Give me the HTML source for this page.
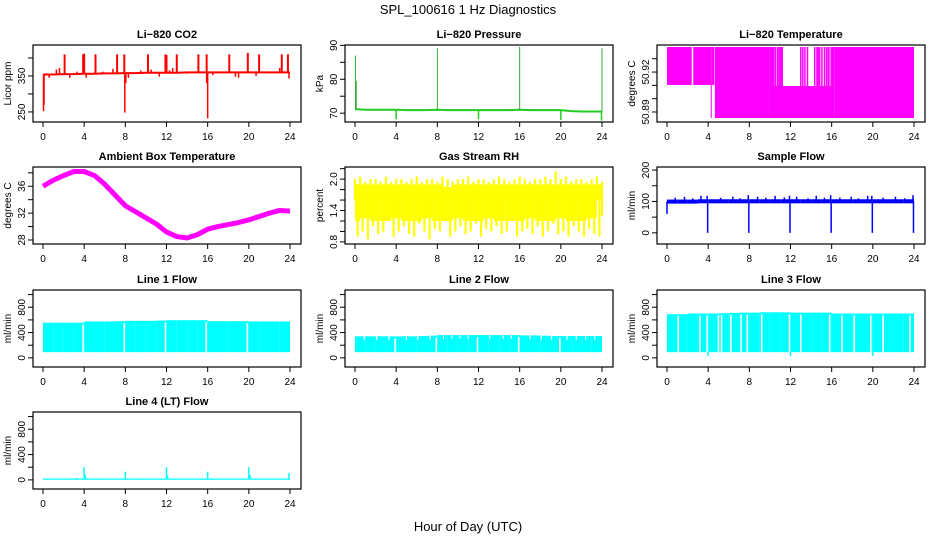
<!DOCTYPE html>
<html><head><meta charset="utf-8">
<style>
html,body{margin:0;padding:0;background:#fff;}
svg{display:block;font-family:"Liberation Sans",Arial,sans-serif;}
</style></head>
<body>
<svg id="chart" width="936" height="540" viewBox="0 0 936 540">
<text x="468" y="14" text-anchor="middle" font-size="13">SPL_100616  1 Hz Diagnostics</text>
<text x="468" y="531" text-anchor="middle" font-size="13">Hour of Day (UTC)</text>
</svg>
<script>
// ---------- data ----------
const xTicks=[0,4,8,12,16,20,24];
const hours=[0,1,2,3,4,5,6,7,8,9,10,11,12,13,14,15,16,17,18,19,20,21,22,23,24];

const co2Base=[354,354,355,355,356,356,357,357,358,358,359,359,359,359,360,360,360,360,360,360,360,360,360,360,360];
const co2SpikeHours=[2.1,3.9,4.0,5.1,7.2,7.9,10.2,11.9,12.0,13.0,15.1,15.9,18.1,19.9,21.0,23.2,23.8];
const co2SpikeVals=[410,410,412,410,410,410,410,410,408,410,410,410,410,414,410,410,410];
const co2DipHours=[0.05,0.1,7.95,8.05,15.9,16.0];
const co2DipVals=[252,270,248,330,330,232];
const co2SmallHours=[0.6,1.3,1.6,2.6,3.3,4.2,5.8,6.8,8.3,9.5,10.5,11.3,12.3,12.6,14.0,16.5,17.5,18.7,19.0,20.7,22.3,23.0,23.9];
const co2SmallVals=[345,368,372,345,362,345,362,370,345,365,368,348,366,372,356,352,362,348,345,350,362,372,343];

const presBase=[71.2,71.0,71.0,71.0,71.0,70.9,70.9,70.9,71.0,70.9,70.9,70.9,70.9,70.9,70.9,70.9,71.0,70.9,70.9,70.9,70.9,70.6,70.5,70.5,70.5];
const presSpikeHours=[0.05,0.12,8.0,16.0,24.0];
const presSpikeVals=[87,79.5,89.2,89.6,89.1];
const presDipHours=[4.0,12.0,20.0,23.95];
const presDipVals=[68.2,68.2,68.0,67.8];

const ltStart=[0,2.55,4.25,4.35,4.65,10.0,10.0,14.5,15.6,16.0,16.3];
const ltEnd=[2.4,4.3,4.35,4.6,10.0,16.3,10.45,14.9,15.8,16.3,24.0];
const ltLow=[50.9103,50.9103,50.8855,50.9103,50.8855,50.8855,50.9095,50.9095,50.9095,50.9095,50.8855];
const ltHigh=[50.9388,50.9388,50.9388,50.9388,50.9388,50.9095,50.9388,50.9388,50.9388,50.9388,50.9388];
const ltLineHours=[10.55,10.75,10.9,11.05,11.2,13.0,13.2,13.4,13.65,14.35,15.05,15.3,15.5,15.95];

const ambVals=[36.0,36.9,37.6,38.2,38.2,37.6,36.3,34.7,33.1,32.2,31.3,30.4,29.2,28.5,28.3,28.8,29.6,30.0,30.3,30.6,31.0,31.5,32.0,32.4,32.3];

const rhHigh=[2.0,2.05,1.95,2.0,2.0,1.95,2.05,1.95,2.0,2.0,1.95,2.0,2.05,1.95,2.0,2.0,1.95,2.05,2.0,1.95,2.0,2.0,2.05,1.95,2.0,2.0,1.95,2.0,2.05,2.0,1.95,2.0,2.05,2.0,1.95,2.0,2.0,2.05,2.0,2.15,2.0,2.05,1.95,2.0,2.0,1.95,2.0,2.05,1.95];
const rhLow=[0.9,1.0,0.85,1.1,0.95,1.0,1.2,0.9,1.0,1.1,0.95,0.9,1.15,1.0,0.85,1.05,1.0,1.2,0.9,1.0,1.1,0.95,1.0,1.15,0.9,1.05,1.0,1.1,0.95,1.0,1.2,0.9,1.0,1.05,0.95,1.1,0.9,1.0,1.15,0.95,1.0,0.9,1.1,1.0,0.9,1.05,0.95,0.9,1.3];
const rhCoreHigh=[1.9,1.9,1.9,1.9,1.9,1.9,1.9,1.9,1.9,1.85,1.9,1.9,1.9,1.9,1.9,1.9,1.9,1.9,1.9,1.9,1.9,1.9,1.9,1.9,1.9];
const rhCoreLow=[1.2,1.25,1.2,1.2,1.25,1.2,1.2,1.25,1.2,1.2,1.25,1.2,1.2,1.25,1.2,1.2,1.2,1.25,1.2,1.2,1.25,1.2,1.2,1.25,1.6];

const sfBase=[100,100,100,101,101,101,101,101,101,101,101,101,101,101,101,101,101,101,101,101,101,101,101,101,101];
const sfDipHours=[0.0,3.95,7.95,11.95,15.95,19.95,23.95];
const sfDipVals=[60,0,0,0,0,0,0];
const sfSpikeHours=[0.8,1.7,2.5,3.3,3.9,5.2,6.4,7.1,7.9,8.8,9.6,10.5,11.4,11.9,12.6,13.7,14.5,15.3,15.9,16.8,17.9,18.6,19.5,19.9,21.0,22.2,23.1,23.9];
const sfSpikeVals=[112,115,110,118,118,112,115,110,120,115,112,118,113,118,115,110,118,112,120,112,115,110,118,118,112,115,110,120];

const l1Level=[555,555,555,555,575,575,575,580,585,585,585,590,595,595,595,595,580,580,580,580,575,575,575,575,460];
const l1Gaps=[3.9,7.9,11.9,15.85,19.85];
const l2Level=[340,340,340,340,340,340,345,350,360,360,360,360,360,360,360,360,355,355,350,345,345,345,345,345,300];
const l2Gaps=[3.9,7.9,11.9,15.9,19.9];
const l2Notches=[0.9,2.1,3.3,5.0,6.1,7.3,8.6,9.4,10.2,11.0,13.1,14.4,15.2,17.0,18.1,19.1,20.6,21.5,22.4,23.3];
const l3Level=[690,690,700,700,700,705,710,715,715,720,720,720,715,715,715,715,700,700,700,700,700,700,700,700,560];
const l3Gaps=[1.1,3.2,3.9,5.0,5.3,6.2,7.2,7.8,9.2,11.9,13.0,15.8,17.0,18.2,19.8,21.0,23.6];
const l4Base=[12,12,12,12,12,12,12,12,12,12,12,12,12,12,12,12,12,12,12,12,12,12,12,12,12];
const l4SpikeHours=[3.3,4.0,4.1,8.0,12.0,12.1,16.0,20.0,20.1,23.9];
const l4SpikeVals=[30,200,80,130,200,70,130,200,80,110];

// ---------- helpers ----------
const NS='http://www.w3.org/2000/svg';
const svg=document.getElementById('chart');
const colL=[33,345,657], rowT=[45,167,290,412], PW=268, PH=77;
function el(tag,parent){const e=document.createElementNS(NS,tag);parent.appendChild(e);return e;}
function att(e,o){for(const k in o)e.setAttribute(k,o[k]);return e;}

function panel(c,r,title,ylab,dmin,dmax,ticks,labels,key){
  const L=colL[c],T=rowT[r];
  const g=el('g',svg);
  
  
  const X=h=>L+10+h*(247/24);
  const Y=v=>T+(dmax-v)/(dmax-dmin)*PH;
  const t=att(el('text',g),{x:L+PW/2,y:T-7,'text-anchor':'middle','font-size':11,'font-weight':'bold'});
  t.textContent=title;
  
  
  const yl=att(el('text',g),{x:0,y:0,'text-anchor':'middle','font-size':10,transform:`translate(${L-22},${T+PH/2}) rotate(-90)`});
  yl.textContent=ylab;
  
  
  const plot=el('g',g);
  
  
  const axes=el('g',g);
  
  
  const box=att(el('rect',axes),{x:L,y:T,width:PW,height:PH,fill:'none',stroke:'#000','stroke-width':1.2});
  
  
  xTicks.forEach(h=>{
    att(el('line',axes),{x1:X(h),x2:X(h),y1:T+PH,y2:T+PH+5,stroke:'#000'});
    const tx=att(el('text',axes),{x:X(h),y:T+PH+18,'text-anchor':'middle','font-size':10});
    tx.textContent=h;
    
    
  });
  ticks.forEach((v,i)=>{
    att(el('line',axes),{x1:L-5,x2:L,y1:Y(v),y2:Y(v),stroke:'#000'});
    if(labels[i]!==''){
      const ty=att(el('text',axes),{x:0,y:0,'text-anchor':'middle','font-size':10,transform:`translate(${L-8},${Y(v)}) rotate(-90)`});
      ty.textContent=labels[i];
      
      
    }
  });
  return {X,Y,g:plot};
}
function vline(p,h,a,b,col,w){
  const l=att(el('line',p.g),{x1:p.X(h),x2:p.X(h),y1:p.Y(a),y2:p.Y(b),stroke:col,'stroke-width':w});
  
  
  return l;
}
function rectH(p,h0,h1,a,b,col){
  const y0=Math.min(p.Y(a),p.Y(b)),y1=Math.max(p.Y(a),p.Y(b));
  const r=att(el('rect',p.g),{x:p.X(h0),y:y0,width:Math.max(0.8,p.X(h1)-p.X(h0)),height:y1-y0,fill:col});
  
  
  return r;
}
function poly(p,hs,vs,col,w){
  const pl=att(el('polyline',p.g),{points:hs.map((h,i)=>p.X(h)+','+p.Y(vs[i])).join(' '),fill:'none',stroke:col,'stroke-width':w,'stroke-linejoin':'round'});
  
  
  return pl;
}

// ---------- CO2 ----------
{const p=panel(0,0,'Li\u2212820 CO2','Licor ppm',222,436,[250,300,350,400],['250','','350',''],'co2');
 const red='#ff0000';
 poly(p,hours,co2Base,red,2);
 const bAt=h=>co2Base[Math.min(24,Math.round(h))];
 co2SpikeHours.forEach((h,i)=>vline(p,h,bAt(h),co2SpikeVals[i],red,2));
 co2DipHours.forEach((h,i)=>vline(p,h,bAt(h),co2DipVals[i],red,1.5));
 co2SmallHours.forEach((h,i)=>vline(p,h,bAt(h),co2SmallVals[i],red,1.5));}

// ---------- Pressure ----------
{const p=panel(1,0,'Li\u2212820 Pressure','kPa',67.4,90.1,[70,75,80,85,90],['70','','80','','90'],'pressure');
 const gr='#22cc22';
 poly(p,hours,presBase,gr,2);
 presSpikeHours.forEach((h,i)=>vline(p,h,presBase[Math.min(24,Math.round(h))],presSpikeVals[i],'#33aa33',1));
 presDipHours.forEach((h,i)=>vline(p,h,presBase[Math.min(24,Math.round(h))],presDipVals[i],gr,1.5));}

// ---------- Li-820 Temperature ----------
{const p=panel(2,0,'Li\u2212820 Temperature','degrees C',50.8825,50.9403,[50.89,50.9,50.91,50.92,50.93],['50.89','','','50.92',''],'licor-temp');
 const mg='#ff00ff';
 ltStart.forEach((s,i)=>rectH(p,s,ltEnd[i],ltLow[i],ltHigh[i],mg));
 ltLineHours.forEach(h=>vline(p,h,50.9095,50.9388,mg,1.5));}

// ---------- Ambient ----------
{const p=panel(0,1,'Ambient Box Temperature','degrees C',27.4,38.87,[28,30,32,34,36,38],['28','','32','','36',''],'ambient-temp');
 poly(p,hours,ambVals,'#ff00ff',5);}

// ---------- RH ----------
{const p=panel(1,1,'Gas Stream RH','percent',0.76,2.232,[0.8,1.0,1.2,1.4,1.6,1.8,2.0,2.2],['0.8','','','1.4','','','2.0',''],'rh');
 const yl='#ffff00';
 hours.forEach((h,i)=>rectH(p,h-0.5<0?0:h-0.5,h+0.5>24?24:h+0.5,rhCoreLow[i],rhCoreHigh[i],yl));
 rhHigh.forEach((v,i)=>vline(p,i*0.5,1.6,v,yl,2.2));
 rhLow.forEach((v,i)=>vline(p,i*0.5+0.25>24?24:i*0.5+0.25,1.6,v,yl,2.2));}

// ---------- Sample flow ----------
{const p=panel(2,1,'Sample Flow','ml/min',-35.5,209.7,[0,50,100,150,200],['0','','100','','200'],'sample-flow');
 const bl='#0000ff';
 hours.forEach((h,i)=>{if(i<24)rectH(p,h,h+1,sfBase[i]-7,sfBase[i]+6,bl);});
 sfDipHours.forEach((h,i)=>vline(p,h,sfBase[Math.min(24,Math.round(h))],sfDipVals[i],bl,1.5));
 sfSpikeHours.forEach((h,i)=>vline(p,h,sfBase[Math.min(24,Math.round(h))],sfSpikeVals[i],bl,1.5));}

// ---------- Line flows ----------
function flowPanel(c,r,title,key,level,gaps){
  const p=panel(c,r,title,'ml/min',-144,1072,[0,200,400,600,800,1000],['0','','400','','800',''],key);
  level.forEach((v,i)=>{if(i<24)rectH(p,hours[i],hours[i]+1,90,v,'#00ffff');});
  rectH(p,23.85,24,level[24]-60,level[24],'#00ffff');
  gaps.forEach(h=>vline(p,h,95,level[Math.min(23,Math.floor(h))]-30,'#ffffff',1.6));
  return p;
}
flowPanel(0,2,'Line 1 Flow','line1-flow',l1Level,l1Gaps);
{const p=flowPanel(1,2,'Line 2 Flow','line2-flow',l2Level,l2Gaps);
 l2Notches.forEach(h=>vline(p,h,l2Level[Math.floor(h)]-60,l2Level[Math.floor(h)],'#ffffff',1.2));}
{const p=flowPanel(2,2,'Line 3 Flow','line3-flow',l3Level,l3Gaps);
 [4.0,12.0,20.0].forEach(h=>vline(p,h,90,30,'#00ffff',1.5));}
{const p=panel(0,3,'Line 4 (LT) Flow','ml/min',-144,1072,[0,200,400,600,800,1000],['0','','400','','800',''],'line4-flow');
 hours.forEach((h,i)=>{if(i<24)rectH(p,h,h+1,l4Base[i]-10,l4Base[i]+10,'#00ffff');});
 l4SpikeHours.forEach((h,i)=>vline(p,h,l4Base[Math.min(24,Math.round(h))],l4SpikeVals[i],'#00ffff',1.5));}
</script>
</body></html>
